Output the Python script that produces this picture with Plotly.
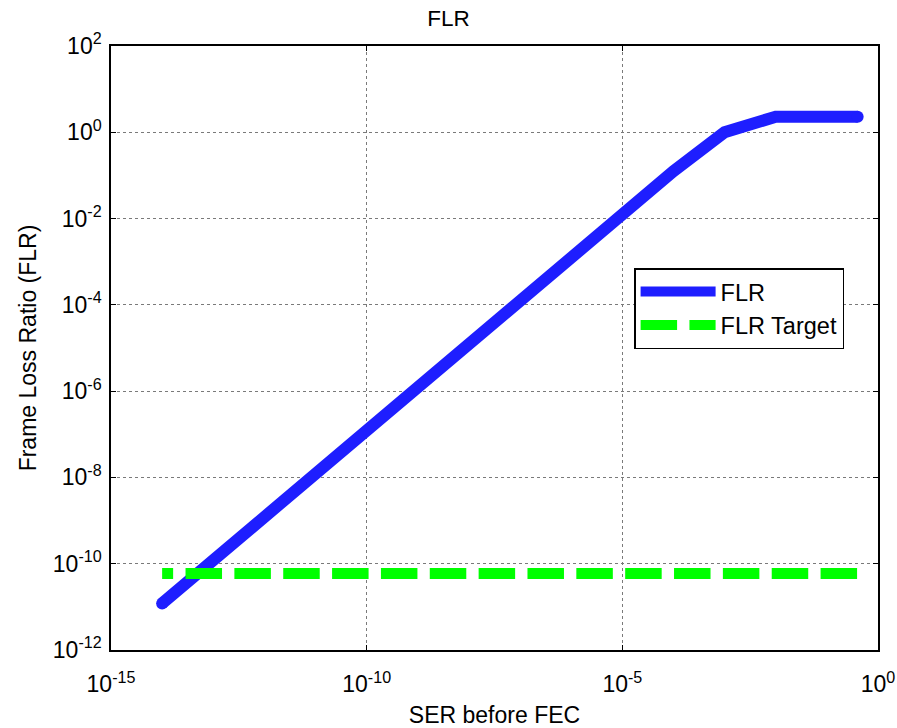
import plotly.graph_objects as go

# Symbol error rate before FEC and resulting frame loss ratio
ser = [1e-14, 1e-13, 1e-12, 1e-11, 1e-10, 1e-9, 1e-8, 1e-7,
       1e-6, 1e-5, 1e-4, 1e-3, 1e-2, 1e-1, 0.4]
flr = [1.2e-11, 1.2e-10, 1.2e-9, 1.2e-8, 1.2e-7, 1.2e-6, 1.2e-5, 1.2e-4,
       1.4e-3, 1.3e-2, 0.125, 1.0, 2.3, 2.3, 2.3]

# Target frame loss ratio over the same SER span
flr_target = 5.9e-11
target_ser = [ser[0], ser[-1]]

x_tickvals = [1e-15, 1e-10, 1e-5, 1e0]
x_ticktext = ["10<sup>-15</sup>", "10<sup>-10</sup>", "10<sup>-5</sup>", "10<sup>0</sup>"]
y_tickvals = [1e-12, 1e-10, 1e-8, 1e-6, 1e-4, 1e-2, 1e0, 1e2]
y_ticktext = ["10<sup>-12</sup>", "10<sup>-10</sup>", "10<sup>-8</sup>", "10<sup>-6</sup>",
              "10<sup>-4</sup>", "10<sup>-2</sup>", "10<sup>0</sup>", "10<sup>2</sup>"]

BLUE = "#1e1eff"
GREEN = "#00ff00"
FONT = "Liberation Sans, Arial, sans-serif"

# dash pattern on the plotted target: short leading dash, then dash/gap pairs
target_dash = "11px,12.4px," + ",".join(["36.5px,12.35px"] * 15)
legend_dash = "36.5px,12.35px"

fig = go.Figure()
fig.add_trace(go.Scatter(
    x=ser, y=flr, mode="lines", name="FLR",
    line=dict(color=BLUE, width=12),
))
# rounded ends of the FLR curve
fig.add_trace(go.Scatter(
    x=[ser[0], ser[-1]], y=[flr[0], flr[-1]], mode="markers",
    marker=dict(color=BLUE, size=12, line=dict(width=0)),
    showlegend=False, hoverinfo="skip",
))
fig.add_trace(go.Scatter(
    x=target_ser, y=[flr_target] * len(target_ser), mode="lines", name="FLR Target",
    line=dict(color=GREEN, width=11, dash=target_dash),
    showlegend=False, legendgroup="target",
))
# legend entry for the target line
fig.add_trace(go.Scatter(
    x=[None], y=[None], mode="lines", name="FLR Target",
    line=dict(color=GREEN, width=11, dash=legend_dash),
    legendgroup="target", hoverinfo="skip",
))

axis_common = dict(
    type="log", automargin=False,
    showline=True, linecolor="black", linewidth=1.5,
    mirror="ticks", ticks="inside", ticklen=5, tickcolor="black",
    showgrid=True, gridcolor="#7a7a7a", gridwidth=1, griddash="dot",
    zeroline=False,
    tickfont=dict(family=FONT, size=23, color="black"),
)

fig.update_layout(
    width=897, height=728,
    margin=dict(l=111, r=19, t=46, b=78),
    paper_bgcolor="white", plot_bgcolor="white",
    font=dict(family=FONT, size=23, color="black"),
    title=dict(text="FLR", x=0.5, xanchor="center", y=0.986, yanchor="top",
               font=dict(family=FONT, size=22.5, color="black")),
    xaxis=dict(axis_common, range=[-15, 0], tickvals=x_tickvals, ticktext=x_ticktext,
               ticklabelstandoff=13,
               title=dict(text="SER before FEC", standoff=11,
                          font=dict(family=FONT, size=23, color="black"))),
    yaxis=dict(axis_common, range=[-12, 2], tickvals=y_tickvals, ticktext=y_ticktext,
               ticklabelstandoff=3,
               title=dict(text="Frame Loss Ratio (FLR)", standoff=10,
                          font=dict(family=FONT, size=23, color="black"))),
    legend=dict(x=0.682, y=0.632, xanchor="left", yanchor="top",
                bgcolor="white", bordercolor="black", borderwidth=1.5,
                font=dict(family=FONT, size=23.5, color="black"),
                itemwidth=75, tracegroupgap=0),
    showlegend=True,
)

fig.write_html("out.html")
